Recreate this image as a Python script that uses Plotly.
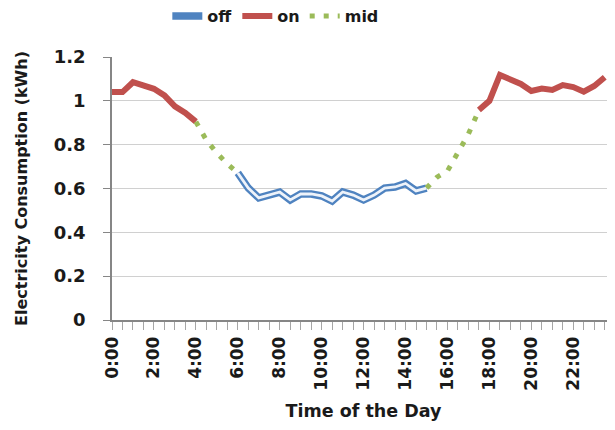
import plotly.graph_objects as go

slots = ["0:00","0:30","1:00","1:30","2:00","2:30","3:00","3:30","4:00","4:30","5:00","5:30",
         "6:00","6:30","7:00","7:30","8:00","8:30","9:00","9:30","10:00","10:30","11:00","11:30",
         "12:00","12:30","13:00","13:30","14:00","14:30","15:00","15:30","16:00","16:30","17:00","17:30",
         "18:00","18:30","19:00","19:30","20:00","20:30","21:00","21:30","22:00","22:30","23:00","23:30"]
hour_labels = ["0:00","2:00","4:00","6:00","8:00","10:00","12:00","14:00","16:00","18:00","20:00","22:00"]

N = None
on_vals = [1.04,1.04,1.085,1.07,1.055,1.025,0.975,0.945,0.905] + [N]*26 + \
          [0.958,1.0,1.118,1.095,1.077,1.045,1.056,1.05,1.072,1.063,1.042,1.068,1.108]
off_vals = [N]*12 + [0.671,0.602,0.557,0.570,0.584,0.548,0.575,0.575,0.566,0.543,
                     0.584,0.570,0.548,0.570,0.602,0.607,0.623,0.589,0.602] + [N]*17
mid_vals = [N]*8 + [0.905,0.821,0.762,0.712,0.671] + [N]*17 + \
           [0.602,0.652,0.680,0.767,0.849,0.958] + [N]*12

FONT = "DejaVu Sans"
TXT = "#1a1a1a"
fig = go.Figure()
fig.add_trace(go.Scatter(x=slots, y=off_vals, mode="lines", name="off",
                         line=dict(color="#4f83c0", width=7.5), connectgaps=False))
fig.add_trace(go.Scatter(x=slots, y=off_vals, mode="lines", name="off", showlegend=False,
                         line=dict(color="#eef3fa", width=2.8), connectgaps=False, hoverinfo="skip"))
fig.add_trace(go.Scatter(x=slots, y=on_vals, mode="lines", name="on",
                         line=dict(color="#c0504d", width=6), connectgaps=False))
fig.add_trace(go.Scatter(x=slots, y=mid_vals, mode="lines", name="mid",
                         line=dict(color="#9bbb59", width=5, dash="5px,9px"), connectgaps=False))

ticktext = [s if s in hour_labels else "" for s in slots]

# page body has an 8px margin, so the figure is sized to end at the window edge
fig.update_layout(
    width=607, height=422,
    margin=dict(l=104, r=0, t=49, b=110, autoexpand=False),
    paper_bgcolor="white", plot_bgcolor="white",
    font=dict(family=FONT, size=16, color=TXT, weight="bold"),
    legend=dict(orientation="h", xref="paper", yref="paper",
                x=0.11, y=1.22, xanchor="left", yanchor="top",
                font=dict(size=16, weight="bold", color=TXT), itemwidth=30, tracegroupgap=0,
                bgcolor="rgba(0,0,0,0)"),
    xaxis=dict(type="category", categoryorder="array", categoryarray=slots,
               range=[0, 47.98], tickmode="array", tickvals=slots, ticktext=ticktext,
               tickangle=-90, ticks="outside", ticklen=8, tickcolor="#a6a6a6",
               showline=True, linecolor="#868686", linewidth=1.5, showgrid=False,
               automargin=False,
               tickfont=dict(size=17, weight="bold", color=TXT),
               title=dict(text="Time of the Day", font=dict(size=17.5, weight="bold", color=TXT),
                          standoff=15)),
    yaxis=dict(range=[0, 1.2001], dtick=0.2, tick0=0, ticks="outside", ticklen=7,
               tickcolor="#868686", showline=True, linecolor="#868686", linewidth=1.5,
               gridcolor="#d0d0d0", gridwidth=1.2, zeroline=False, automargin=False,
               tickfont=dict(size=18, weight="bold", color=TXT), ticklabelstandoff=14,
               title=dict(text="Electricity Consumption (kWh)",
                          font=dict(size=16, weight="bold", color=TXT), standoff=22)),
)

fig.write_html("out.html")
